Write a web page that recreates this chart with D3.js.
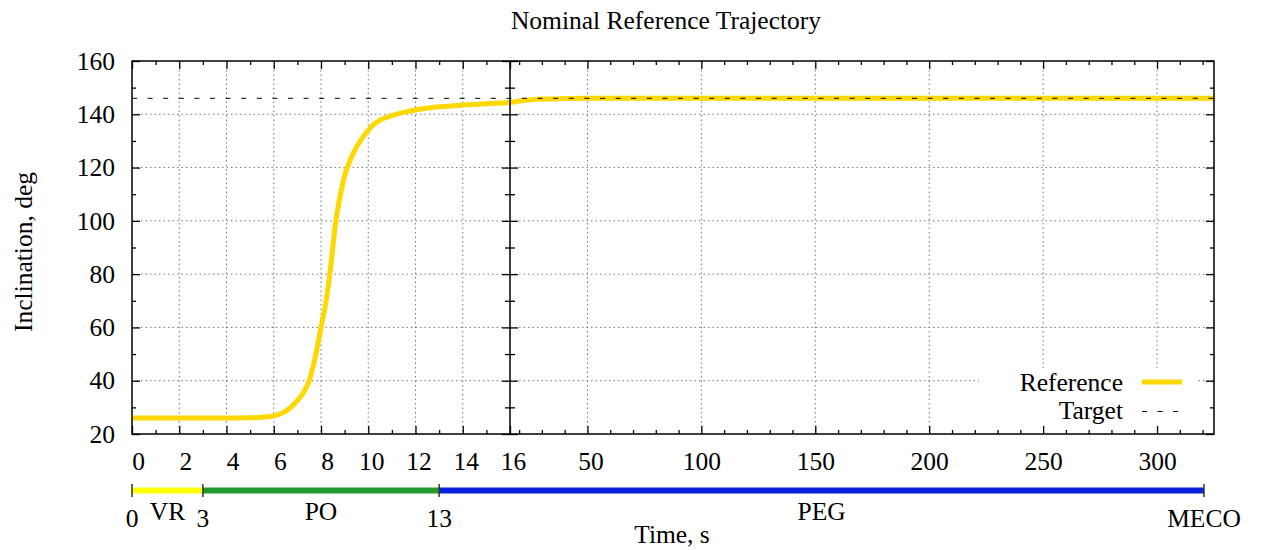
<!DOCTYPE html>
<html>
<head>
    <meta charset="utf-8">
    <title>Nominal Reference Trajectory</title>
    <script src="https://cdnjs.cloudflare.com/ajax/libs/d3/7.8.5/d3.min.js"></script>
    <style>
        body { margin: 0; background: #fff; }
        text { font-family: "Liberation Serif", "Times New Roman", serif; font-size: 25.5px; fill: #000; }
        .grid line { stroke: #777; stroke-width: 1; stroke-dasharray: 1.5,3; }
        .axis line { stroke: #000; stroke-width: 1.3; }
    </style>
</head>
<body>

<script type="text/javascript">
    // reference trajectory
    var time = [0, 2, 4, 5, 5.5, 6, 6.5, 7, 7.25, 7.5, 7.75, 8, 8.2, 8.3, 8.4, 8.5, 8.6, 8.7, 8.85,
                9.0, 9.2, 9.4, 9.7, 10, 10.2, 10.5, 11, 11.5, 12, 13, 14, 15, 16,
                20, 25, 30, 40, 50, 70, 100, 150, 200, 250, 300, 325];
    var inclination = [26, 26, 26, 26.1, 26.3, 26.8, 28.5, 32.5, 35.5, 40, 48.5, 60, 69, 75, 82, 90, 98, 104, 111,
                       117, 122, 126, 130.5, 134, 136, 137.8, 139.5, 140.7, 141.6, 142.8, 143.5, 144, 144.4,
                       145, 145.4, 145.7, 145.9, 146, 146, 146, 146, 146, 146, 146, 146];
    var targetInclination = 146;

    var phaseNames = ["VR", "PO", "PEG"];
    var phaseStart = [0, 3, 13];
    var phaseEnd = [3, 13, 320.6];
    var phaseColors = ["#ffff00", "#22992a", "#0a22da"];
    var eventTimes = [0, 3, 13, 320.6];
    var eventLabels = ["0", "3", "13", "MECO"];

    var xMajor = [0, 2, 4, 6, 8, 10, 12, 14, 16, 50, 100, 150, 200, 250, 300];
    var xMinor = [1, 3, 5, 7, 9, 11, 13, 15, 20, 30, 40, 60, 70, 80, 90, 110, 120, 130, 140,
                  160, 170, 180, 190, 210, 220, 230, 240, 260, 270, 280, 290, 310, 320];
    var yMajor = [20, 40, 60, 80, 100, 120, 140, 160];
    var yMinor = [30, 50, 70, 90, 110, 130, 150];
    var xGrid = [2, 4, 6, 8, 10, 12, 14, 50, 100, 150, 200, 250, 300];
    var yGrid = [40, 60, 80, 100, 120, 140];

    var width = 1261,
        height = 550,
        plotLeft = 132,
        plotSplit = 510,
        plotRight = 1214,
        plotTop = 61,
        plotBottom = 434,
        barY = 490.5;

    // two panels: 0..16 and 16..325 on one piecewise scale
    var x = d3.scaleLinear().domain([0, 16, 325]).range([plotLeft, plotSplit, plotRight]);
    var y = d3.scaleLinear().domain([20, 160]).range([plotBottom, plotTop]);

    var svg = d3.select("body").append("svg")
        .attr("width", width)
        .attr("height", height);

    svg.append("defs").append("clipPath").attr("id", "plot")
        .append("rect")
        .attr("x", plotLeft).attr("y", plotTop)
        .attr("width", plotRight - plotLeft).attr("height", plotBottom - plotTop);

    // grid
    var grid = svg.append("g").attr("class", "grid");
    grid.selectAll("line.v").data(xGrid).enter().append("line")
        .attr("x1", function(d){ return x(d); }).attr("x2", function(d){ return x(d); })
        .attr("y1", plotTop).attr("y2", plotBottom);
    grid.selectAll("line.h").data(yGrid).enter().append("line")
        .attr("x1", plotLeft).attr("x2", plotRight)
        .attr("y1", function(d){ return y(d); }).attr("y2", function(d){ return y(d); });

    // key background hides the grid
    svg.append("rect")
        .attr("x", 979).attr("y", 368)
        .attr("width", 219).attr("height", plotBottom - 368 - 1)
        .attr("fill", "#fff");

    // axes, ticks pointing inward like gnuplot
    function tickAxis(axis, values, size, transform, labels){
        var g = svg.append("g")
            .attr("class", "axis")
            .attr("transform", transform)
            .call(axis.tickValues(values).tickSize(size).tickFormat(labels ? d3.format("d") : ""));
        g.select(".domain").remove();
        return g;
    }

    var bx = tickAxis(d3.axisBottom(x).tickPadding(0), xMajor, -8, "translate(0," + plotBottom + ")", true);
    bx.selectAll("text")
        .attr("y", 36).attr("dy", 0)
        .attr("dx", function(d){ return (3 - String(d).length) * 3; });
    tickAxis(d3.axisBottom(x), xMinor, -4, "translate(0," + plotBottom + ")", false);
    tickAxis(d3.axisTop(x), xMajor, -8, "translate(0," + plotTop + ")", false);
    tickAxis(d3.axisTop(x), xMinor, -4, "translate(0," + plotTop + ")", false);

    tickAxis(d3.axisLeft(y).tickPadding(17), yMajor, -8, "translate(" + plotLeft + ",0)", true);
    tickAxis(d3.axisLeft(y), yMinor, -4, "translate(" + plotLeft + ",0)", false);
    tickAxis(d3.axisRight(y), yMajor, -8, "translate(" + plotRight + ",0)", false);
    tickAxis(d3.axisRight(y), yMinor, -4, "translate(" + plotRight + ",0)", false);
    tickAxis(d3.axisLeft(y), yMajor, 8, "translate(" + plotSplit + ",0)", false);
    tickAxis(d3.axisLeft(y), yMinor, 5, "translate(" + plotSplit + ",0)", false);
    tickAxis(d3.axisRight(y), yMajor, 8, "translate(" + plotSplit + ",0)", false);
    tickAxis(d3.axisRight(y), yMinor, 5, "translate(" + plotSplit + ",0)", false);

    // reference curve
    var line = d3.line()
        .x(function(d){ return x(d[0]); })
        .y(function(d){ return y(d[1]); })
        .curve(d3.curveMonotoneX);

    svg.append("path")
        .datum(d3.zip(time, inclination))
        .attr("clip-path", "url(#plot)")
        .attr("d", line)
        .attr("fill", "none")
        .attr("stroke", "#ffd800")
        .attr("stroke-width", 5);

    // target
    svg.append("line")
        .attr("x1", plotLeft).attr("x2", plotRight)
        .attr("y1", y(targetInclination)).attr("y2", y(targetInclination))
        .attr("stroke", "#000")
        .attr("stroke-width", 1)
        .attr("stroke-dasharray", "5,10.6");

    // frame
    svg.append("rect")
        .attr("x", plotLeft).attr("y", plotTop)
        .attr("width", plotRight - plotLeft).attr("height", plotBottom - plotTop)
        .attr("fill", "none").attr("stroke", "#000").attr("stroke-width", 1.5);
    svg.append("line")
        .attr("x1", plotSplit).attr("x2", plotSplit).attr("y1", plotTop).attr("y2", plotBottom)
        .attr("stroke", "#000").attr("stroke-width", 1.5);

    // key
    var key = svg.append("g");
    key.append("text").attr("x", 1123).attr("y", 391).attr("text-anchor", "end").text("Reference");
    key.append("line").attr("x1", 1142).attr("x2", 1182).attr("y1", 382).attr("y2", 382)
        .attr("stroke", "#ffd800").attr("stroke-width", 5);
    key.append("text").attr("x", 1123).attr("y", 419).attr("text-anchor", "end").text("Target");
    key.append("line").attr("x1", 1142).attr("x2", 1182).attr("y1", 411.5).attr("y2", 411.5)
        .attr("stroke", "#000").attr("stroke-width", 1).attr("stroke-dasharray", "5,10.6");

    // flight phases bar
    var phases = d3.range(phaseNames.length).map(function(i){
        return {name: phaseNames[i], start: phaseStart[i], end: phaseEnd[i], color: phaseColors[i]};
    });
    svg.selectAll("line.phase").data(phases).enter().append("line")
        .attr("class", "phase")
        .attr("x1", function(d){ return x(d.start); })
        .attr("x2", function(d){ return x(d.end); })
        .attr("y1", barY).attr("y2", barY)
        .attr("stroke", function(d){ return d.color; })
        .attr("stroke-width", 6);
    svg.selectAll("text.phase").data(phases).enter().append("text")
        .attr("class", "phase")
        .attr("x", function(d){ return (x(d.start) + x(d.end)) / 2; })
        .attr("y", 520)
        .attr("text-anchor", "middle")
        .text(function(d){ return d.name; });

    svg.selectAll("line.event").data(eventTimes).enter().append("line")
        .attr("class", "event")
        .attr("x1", function(d){ return x(d); }).attr("x2", function(d){ return x(d); })
        .attr("y1", barY - 6.5).attr("y2", barY + 6.5)
        .attr("stroke", "#333").attr("stroke-width", 1.5);
    svg.selectAll("text.event").data(eventTimes).enter().append("text")
        .attr("class", "event")
        .attr("x", function(d){ return x(d); })
        .attr("y", 527)
        .attr("text-anchor", "middle")
        .text(function(d, i){ return eventLabels[i]; });

    // titles
    svg.append("text")
        .attr("x", 666).attr("y", 29)
        .attr("text-anchor", "middle")
        .text("Nominal Reference Trajectory");
    svg.append("text")
        .attr("x", 672).attr("y", 543)
        .attr("text-anchor", "middle")
        .text("Time, s");
    svg.append("text")
        .attr("transform", "translate(32,252) rotate(-90)")
        .attr("text-anchor", "middle")
        .text("Inclination, deg");
</script>

</body>
</html>
